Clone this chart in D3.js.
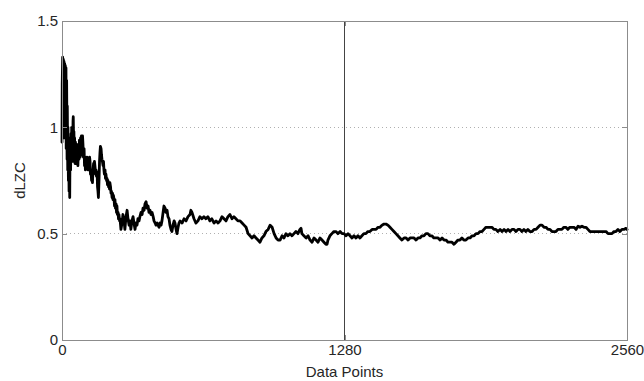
<!DOCTYPE html>
<html><head><meta charset="utf-8">
<script src="https://cdn.jsdelivr.net/npm/d3@7"></script>
<style>body{margin:0;background:#fff}svg{display:block}</style>
</head><body><svg id="c" width="644" height="381"></svg>
<script>
const xTickValues = [0, 1280, 2560];
const xTickLabels = ["0", "1280", "2560"];
const yTickValues = [0, 0.5, 1, 1.5];
const yTickLabels = ["0", "0.5", "1", "1.5"];
const gridY = [0.5, 1];
const gridX = [1280];
const xLabel = "Data Points";
const yLabel = "dLZC";

const pointIndex = [0,1,3,5,6,8,9,10,12,14,15,17,18,19,21,23,24,26,27,29,30,32,33,35,36,38,39,41,42,44,45,47,48,50,51,53,54,56,57,59,61,63,66,68,70,72,75,77,79,82,84,86,88,91,93,95,97,100,102,104,106,109,111,113,116,118,120,122,125,127,129,131,134,136,138,140,143,145,147,150,152,154,156,159,161,163,165,168,170,172,174,177,179,181,183,186,188,190,192,195,197,199,202,204,206,208,211,213,215,217,220,222,224,227,229,231,233,236,238,240,242,245,247,249,251,254,256,258,261,263,267,272,276,281,285,290,295,299,304,308,312,317,322,326,331,335,340,344,349,353,358,363,367,372,376,381,385,390,394,399,403,408,413,417,422,426,431,435,440,444,449,453,458,462,467,471,476,480,485,489,494,498,503,508,512,517,521,526,530,535,544,553,562,571,580,584,589,598,607,616,625,634,643,652,661,670,679,689,698,707,716,725,734,743,752,761,770,779,788,797,807,816,825,834,843,852,861,870,879,888,897,906,915,924,934,943,952,961,970,979,988,997,1006,1015,1024,1033,1042,1051,1060,1069,1078,1083,1087,1096,1106,1115,1124,1133,1142,1151,1160,1169,1178,1187,1196,1201,1205,1214,1223,1232,1241,1250,1260,1269,1278,1287,1296,1305,1314,1323,1332,1341,1350,1359,1368,1377,1386,1395,1405,1414,1423,1432,1441,1450,1459,1468,1477,1486,1495,1504,1513,1522,1531,1540,1550,1559,1568,1577,1586,1595,1604,1613,1622,1631,1640,1649,1658,1667,1676,1685,1695,1704,1713,1722,1731,1740,1749,1758,1767,1776,1785,1794,1803,1812,1821,1830,1840,1849,1858,1867,1876,1885,1894,1903,1912,1921,1930,1939,1948,1957,1966,1975,1985,1994,2003,2012,2021,2030,2039,2048,2057,2066,2075,2084,2093,2102,2111,2120,2130,2139,2148,2157,2166,2175,2184,2193,2202,2211,2220,2229,2238,2247,2256,2265,2274,2283,2292,2301,2310,2320,2329,2338,2347,2356,2365,2374,2383,2392,2401,2410,2419,2428,2437,2446,2456,2465,2474,2483,2492,2501,2510,2519,2528,2537,2546,2555,2560];

const dlzcValues = [0.93,1.20,1.33,1.02,1.32,1.10,1.31,0.95,1.30,1.22,1.29,1.05,1.28,0.90,1.22,0.85,1.10,0.80,1.00,0.75,0.95,0.70,0.90,0.67,0.85,0.90,0.80,0.97,0.84,1.00,0.86,0.98,0.84,1.03,1.05,0.90,0.98,0.84,0.95,0.83,0.93,0.84,0.92,0.83,0.90,0.82,0.92,0.85,0.94,0.86,0.95,0.87,0.96,0.88,0.96,0.92,0.86,0.90,0.82,0.86,0.80,0.85,0.81,0.86,0.82,0.80,0.84,0.81,0.86,0.84,0.78,0.80,0.75,0.78,0.74,0.79,0.83,0.80,0.84,0.81,0.78,0.80,0.77,0.79,0.72,0.70,0.67,0.76,0.84,0.88,0.91,0.90,0.87,0.85,0.84,0.82,0.84,0.80,0.78,0.80,0.76,0.78,0.75,0.76,0.73,0.75,0.72,0.74,0.71,0.74,0.72,0.69,0.70,0.67,0.69,0.66,0.68,0.66,0.63,0.66,0.62,0.64,0.60,0.63,0.59,0.60,0.57,0.59,0.56,0.57,0.52,0.55,0.59,0.56,0.52,0.58,0.61,0.57,0.54,0.56,0.52,0.56,0.58,0.55,0.52,0.55,0.54,0.57,0.56,0.58,0.60,0.59,0.62,0.61,0.64,0.65,0.62,0.63,0.60,0.61,0.59,0.60,0.58,0.56,0.55,0.54,0.55,0.54,0.53,0.55,0.54,0.56,0.60,0.63,0.62,0.60,0.61,0.58,0.57,0.54,0.52,0.51,0.54,0.56,0.55,0.52,0.50,0.53,0.55,0.56,0.55,0.57,0.56,0.58,0.59,0.61,0.60,0.57,0.55,0.56,0.58,0.57,0.58,0.57,0.58,0.56,0.57,0.55,0.56,0.55,0.56,0.58,0.57,0.56,0.58,0.59,0.57,0.58,0.57,0.56,0.56,0.55,0.54,0.53,0.50,0.49,0.48,0.49,0.48,0.47,0.46,0.48,0.49,0.51,0.52,0.54,0.53,0.50,0.48,0.47,0.47,0.49,0.48,0.50,0.49,0.50,0.49,0.50,0.51,0.50,0.52,0.525,0.50,0.49,0.48,0.49,0.47,0.46,0.48,0.47,0.46,0.48,0.47,0.46,0.45,0.45,0.47,0.49,0.50,0.51,0.51,0.50,0.51,0.50,0.50,0.49,0.50,0.49,0.48,0.49,0.48,0.49,0.48,0.49,0.50,0.50,0.51,0.51,0.52,0.52,0.52,0.53,0.53,0.54,0.545,0.545,0.54,0.53,0.52,0.51,0.50,0.49,0.48,0.47,0.48,0.48,0.47,0.48,0.48,0.48,0.47,0.48,0.48,0.49,0.49,0.50,0.50,0.49,0.49,0.48,0.48,0.48,0.47,0.48,0.47,0.47,0.46,0.46,0.46,0.45,0.46,0.47,0.47,0.48,0.47,0.47,0.48,0.48,0.49,0.49,0.50,0.50,0.51,0.51,0.52,0.53,0.53,0.53,0.53,0.52,0.52,0.51,0.52,0.51,0.52,0.51,0.52,0.51,0.52,0.52,0.51,0.52,0.52,0.51,0.52,0.51,0.52,0.51,0.51,0.52,0.52,0.53,0.54,0.54,0.53,0.53,0.52,0.52,0.51,0.51,0.51,0.52,0.52,0.52,0.53,0.53,0.52,0.53,0.53,0.53,0.52,0.535,0.53,0.535,0.53,0.53,0.52,0.51,0.51,0.51,0.51,0.51,0.51,0.51,0.51,0.51,0.50,0.50,0.50,0.51,0.51,0.52,0.51,0.52,0.52,0.525,0.52];

const W = 644, H = 381;
const margin = {left: 62, right: 17, top: 21, bottom: 41};
const svg = d3.select("#c");
const x = d3.scaleLinear().domain([0, 2560]).range([margin.left, W - margin.right]);
const y = d3.scaleLinear().domain([0, 1.5]).range([H - margin.bottom, margin.top]);
const font = "'Liberation Sans', Arial, sans-serif";

// grid
svg.append("g").selectAll("line").data(gridY).join("line")
  .attr("x1", x(0)).attr("x2", x(2560)).attr("y1", d => y(d)).attr("y2", d => y(d))
  .attr("stroke", "#b0b0b0").attr("stroke-width", 1).attr("stroke-dasharray", "1,3")
  .attr("shape-rendering", "crispEdges");
svg.append("g").selectAll("line").data(gridX).join("line")
  .attr("x1", d => x(d)).attr("x2", d => x(d)).attr("y1", y(0)).attr("y2", y(1.5))
  .attr("stroke", "#444").attr("stroke-width", 1).attr("shape-rendering", "crispEdges");

// line
const pts = pointIndex.map((d, i) => [d, dlzcValues[i]]);
svg.append("path").datum(pts)
  .attr("fill", "none").attr("stroke", "#000").attr("stroke-width", 2.8)
  .attr("stroke-linejoin", "round").attr("stroke-linecap", "round")
  .attr("d", d3.line().x(d => x(d[0])).y(d => y(d[1])));

function styleAxis(g, showText) {
  g.select(".domain").attr("stroke", "#8c8c8c");
  g.selectAll(".tick line").attr("stroke", "#8c8c8c");
  g.selectAll(".tick text").attr("fill", "#262626").style("font-family", font).style("font-size", "15px");
  if (!showText) g.selectAll(".tick text").remove();
  g.attr("shape-rendering", "crispEdges");
}
const xFmt = (d) => xTickLabels[xTickValues.indexOf(d)];
const yFmt = (d) => yTickLabels[yTickValues.indexOf(d)];

svg.append("g").attr("transform", `translate(0,${y(0)})`)
  .call(d3.axisBottom(x).tickValues(xTickValues).tickFormat(xFmt).tickSize(-5).tickPadding(4).tickSizeOuter(0))
  .call(g => styleAxis(g, true));
svg.append("g").attr("transform", `translate(0,${y(1.5)})`)
  .call(d3.axisTop(x).tickValues(xTickValues).tickSize(-5).tickSizeOuter(0))
  .call(g => styleAxis(g, false));
svg.append("g").attr("transform", `translate(${x(0)},0)`)
  .call(d3.axisLeft(y).tickValues(yTickValues).tickFormat(yFmt).tickSize(-5).tickPadding(4).tickSizeOuter(0))
  .call(g => styleAxis(g, true));
svg.append("g").attr("transform", `translate(${x(2560)},0)`)
  .call(d3.axisRight(y).tickValues(yTickValues).tickSize(-5).tickSizeOuter(0))
  .call(g => styleAxis(g, false));

svg.append("text").attr("x", x(1280)).attr("y", 377).attr("text-anchor", "middle")
  .attr("fill", "#262626").style("font-family", font).style("font-size", "15px").text(xLabel);
svg.append("text").attr("transform", `translate(25,${y(0.75)}) rotate(-90)`).attr("text-anchor", "middle")
  .attr("fill", "#262626").style("font-family", font).style("font-size", "15px").text(yLabel);
</script></body></html>
